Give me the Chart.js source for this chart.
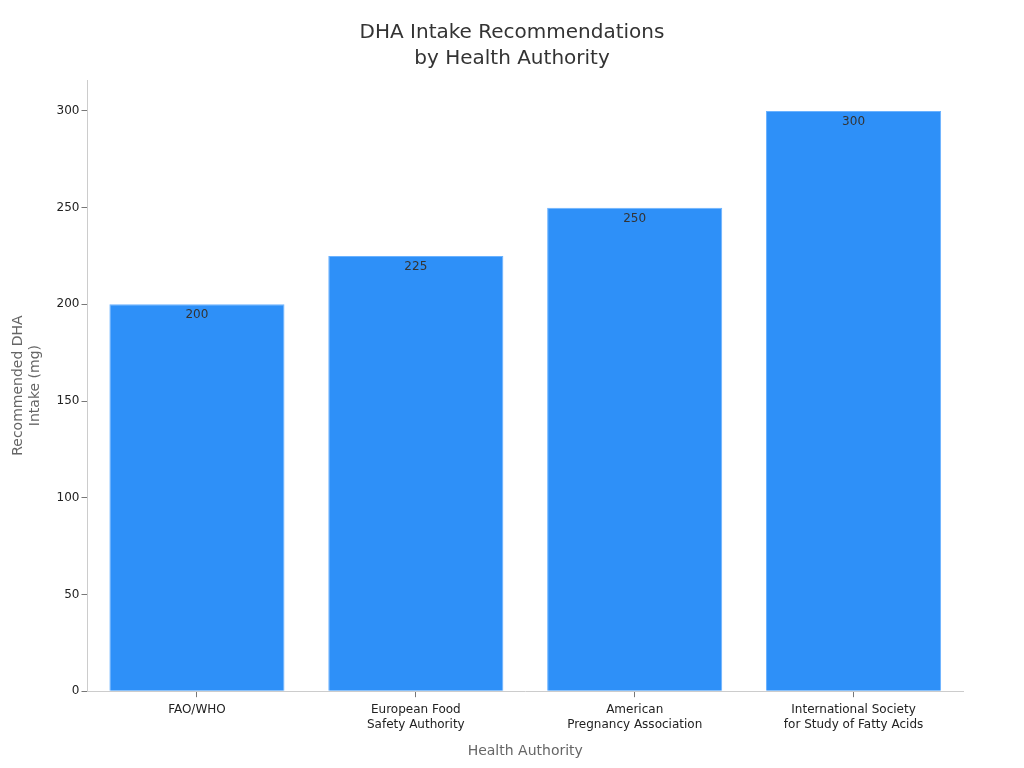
<!DOCTYPE html>
<html>
<head>
<meta charset="utf-8">
<script src="https://cdn.jsdelivr.net/npm/chart.js@4.4.0/dist/chart.umd.min.js"></script>
<style>
html,body{margin:0;padding:0;background:#fff;}
#wrap{width:1024px;height:768px;}
</style>
</head>
<body>
<div id="wrap"><canvas id="c" width="1024" height="768"></canvas></div>
<script>
const categories = [
  ["FAO/WHO"],
  ["European Food", "Safety Authority"],
  ["American", "Pregnancy Association"],
  ["International Society", "for Study of Fatty Acids"]
];
const values = [200, 225, 250, 300];
const yTicks = [0, 50, 100, 150, 200, 250, 300];
const titleLines = ['DHA Intake Recommendations', 'by Health Authority'];

const FONT = "'DejaVu Sans', sans-serif";

const valueLabels = {
  id: 'valueLabels',
  afterDatasetsDraw(chart) {
    const ctx = chart.ctx;
    const meta = chart.getDatasetMeta(0);
    ctx.save();
    ctx.font = "12px " + FONT;
    ctx.fillStyle = '#333';
    ctx.textAlign = 'center';
    ctx.textBaseline = 'middle';
    meta.data.forEach((bar, i) => {
      ctx.fillText(String(values[i]), bar.x, bar.y + 11);
    });
    ctx.restore();
  }
};

const centeredTitle = {
  id: 'centeredTitle',
  afterDraw(chart) {
    const ctx = chart.ctx;
    ctx.save();
    ctx.font = "20px " + FONT;
    ctx.fillStyle = '#333';
    ctx.textAlign = 'center';
    ctx.textBaseline = 'middle';
    titleLines.forEach((t, i) => ctx.fillText(t, chart.width / 2, 33 + i * 26));
    ctx.restore();
  }
};

new Chart(document.getElementById('c'), {
  type: 'bar',
  data: {
    labels: categories,
    datasets: [{
      data: values,
      backgroundColor: '#2e90f8',
      borderColor: '#6ab2ff',
      borderWidth: 1,
      categoryPercentage: 0.8,
      barPercentage: 1.0
    }]
  },
  options: {
    responsive: false,
    animation: false,
    devicePixelRatio: 1,
    layout: { padding: { left: 6, right: 61, top: 80, bottom: 4 } },
    plugins: {
      legend: { display: false },
      tooltip: { enabled: false },
      title: { display: false }
    },
    scales: {
      x: {
        grid: { display: true, offset: false, drawOnChartArea: false, drawTicks: true, tickLength: 6, color: '#777' },
        border: { display: true, color: '#ccc' },
        ticks: { color: '#222', font: { family: FONT, size: 12, lineHeight: 1.25 }, padding: 5 },
        title: {
          display: true, text: 'Health Authority', color: '#666',
          font: { family: FONT, size: 14 }, padding: { top: 6 }
        }
      },
      y: {
        min: 0,
        max: 316,
        afterBuildTicks(axis) { axis.ticks = yTicks.map(v => ({ value: v })); },
        grid: { display: true, drawOnChartArea: false, drawTicks: true, tickLength: 6, color: '#777' },
        border: { display: true, color: '#ccc' },
        ticks: { color: '#222', font: { family: FONT, size: 12 }, padding: 2 },
        title: {
          display: true, text: ['Recommended DHA', 'Intake (mg)'], color: '#666',
          font: { family: FONT, size: 14 }, padding: { bottom: 11 }
        }
      }
    }
  },
  plugins: [valueLabels, centeredTitle]
});
</script>
</body>
</html>
